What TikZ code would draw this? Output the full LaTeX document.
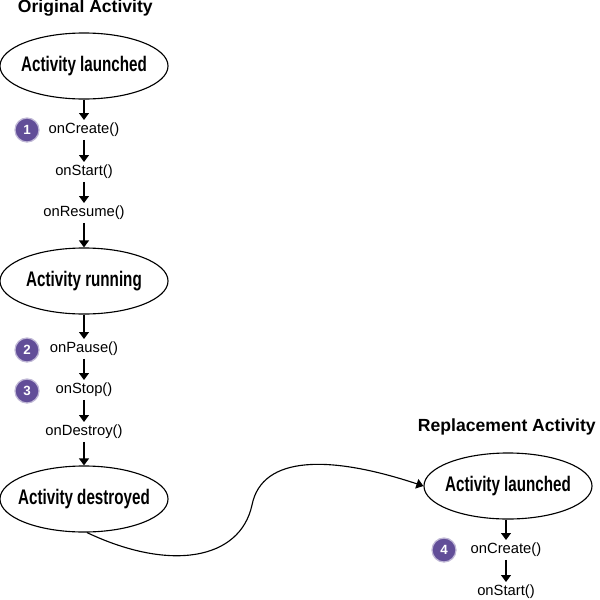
\documentclass[tikz,border=0pt]{standalone}
\usepackage{fontspec}
\setmainfont{Liberation Sans}
\newfontfamily\handfont[FakeStretch=0.72]{Liberation Sans}
\usepackage{xcolor}
\usetikzlibrary{arrows.meta,shapes.geometric}
\definecolor{numpurple}{RGB}{98,78,152}

\begin{document}
\begin{tikzpicture}[x=0.025cm,y=-0.025cm,>={Triangle[length=5pt,width=7pt]},font=\fontsize{10.5}{12}\selectfont]
 \tikzset{state/.style={draw,ellipse,line width=0.8pt,minimum width=4.2cm,minimum height=1.65cm,inner xsep=-6pt,inner ysep=0pt,font=\handfont\bfseries\fontsize{15}{17}\selectfont},
          call/.style={inner sep=2pt},
          num/.style={circle,fill=numpurple,draw=numpurple!40,line width=0.9pt,text=white,font=\bfseries\fontsize{9.5}{9.5}\selectfont,minimum size=0.6cm,inner sep=0pt},
          title/.style={anchor=west,font=\bfseries\fontsize{12.5}{14}\selectfont},
          arr/.style={->,line width=1.1pt}}
 \useasboundingbox (0,0) rectangle (600,600);
 % original activity
 \node[title] (otitle) at (13,8) {Original Activity};
 \node[state] (launch) at (84,66) {Activity launched};
 \node[call] (create) at (84,130) {onCreate()};
 \node[call] (start) at (84,172) {onStart()};
 \node[call] (resume) at (84,213) {onResume()};
 \node[state] (running) at (84,281) {Activity running};
 \node[call] (pause) at (84,349) {onPause()};
 \node[call] (stop) at (84,390) {onStop()};
 \node[call] (destroy) at (84,432) {onDestroy()};
 \node[state] (destroyed) at (84,499) {Activity destroyed};
 \node[num] (n1) at (27,130) {1};
 \node[num] (n2) at (27,350) {2};
 \node[num] (n3) at (27,391) {3};
 \draw[arr] (launch) -- (create);
 \draw[arr] (create) -- (start);
 \draw[arr] (start) -- (resume);
 \draw[arr] (resume) -- (running);
 \draw[arr] (running) -- (pause);
 \draw[arr] (pause) -- (stop);
 \draw[arr] (stop) -- (destroy);
 \draw[arr] (destroy) -- (destroyed);
 % replacement activity
 \node[title] (rtitle) at (413,427) {Replacement Activity};
 \node[state] (rlaunch) at (508,486) {Activity launched};
 \node[call] (rcreate) at (506,550) {onCreate()};
 \node[call] (rstart) at (506,592) {onStart()};
 \node[num] (n4) at (444,550) {4};
 \draw[arr] (rlaunch.south -| rcreate) -- (rcreate);
 \draw[arr] (rcreate) -- (rstart);
 \draw[->,line width=0.8pt] (destroyed.-85) .. controls (170,572) and (240,560) .. (252,505)
   .. controls (262,455) and (330,455) .. (rlaunch.west);
\end{tikzpicture}
\end{document}
